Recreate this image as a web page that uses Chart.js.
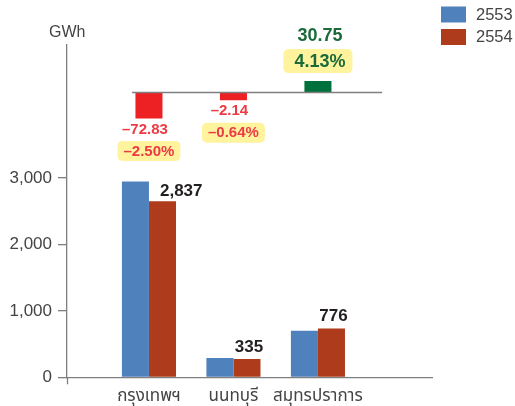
<!DOCTYPE html>
<html><head><meta charset="utf-8">
<script src="https://cdn.jsdelivr.net/npm/chart.js@4"></script>
<style>html,body{margin:0;padding:0;background:#fff;} #wrap{width:515px;height:406px;position:relative;}</style>
</head><body><div id="wrap"><canvas id="c"></canvas></div>
<script>
// ---- data ----
const categories = ['กรุงเทพฯ', 'นนทบุรี', 'สมุทรปราการ'];
const seriesNames = ['2553', '2554'];
const values2553 = [2945, 292, 700];
const values2554 = [2650, 277, 735];
const labels2554 = ['2,837', '335', '776'];
const changeValues = [-72.83, -2.14, 30.75];
const changeLabels = ['–72.83', '–2.14', '30.75'];
const changePercents = ['–2.50%', '–0.64%', '4.13%'];
const yTicks = [0, 1000, 2000, 3000];
const yUnit = 'GWh';

// ---- styles ----
const FONT = '"Liberation Sans", Arial, "Noto Sans Thai", "Noto Sans", sans-serif';
const colors = ['#4F81BD', '#AE3B1B'];
const axisColor = '#7f7f7f';
const textColor = '#444444';
const redBar = '#ED2024', greenBar = '#00703C';
const redText = '#EE3A45', greenText = '#1A6B3A';
const yellow = '#FFF39E';

const positions = categories.map((_, i) => i + 1);

function roundRect(ctx, x, y, w, h, r) {
  ctx.beginPath();
  ctx.moveTo(x + r, y);
  ctx.arcTo(x + w, y, x + w, y + h, r);
  ctx.arcTo(x + w, y + h, x, y + h, r);
  ctx.arcTo(x, y + h, x, y, r);
  ctx.arcTo(x, y, x + w, y, r);
  ctx.closePath();
}

const overlay = {
  id: 'overlay',
  afterDraw(chart) {
    const ctx = chart.ctx;
    const xs = chart.scales.x, y2 = chart.scales.y2;
    const area = chart.chartArea;
    ctx.save();
    // y-axis extension below the x axis
    ctx.strokeStyle = axisColor; ctx.lineWidth = 1.3;
    ctx.beginPath(); ctx.moveTo(area.left + 0.5, area.bottom); ctx.lineTo(area.left + 0.5, area.bottom + 7); ctx.stroke();
    // change chart baseline
    const zy = Math.round(y2.getPixelForValue(0)) + 0.5;
    ctx.beginPath(); ctx.moveTo(xs.getPixelForValue(0.8), zy); ctx.lineTo(xs.getPixelForValue(3.76), zy); ctx.stroke();

    // unit label
    ctx.font = '16px ' + FONT; ctx.fillStyle = textColor;
    ctx.textAlign = 'left'; ctx.textBaseline = 'middle';
    ctx.fillText(yUnit, area.left - 18, area.top - 12);

    // legend
    ctx.font = '16.5px ' + FONT;
    seriesNames.forEach((n, i) => {
      const ly = 6.5 + i * 22.5;
      ctx.fillStyle = colors[i];
      ctx.fillRect(chart.width - 74, ly, 25, 16);
      ctx.fillStyle = textColor;
      ctx.fillText(n, chart.width - 39, ly + 8.5);
    });

    // 2554 value labels
    const m0 = chart.getDatasetMeta(0), m1 = chart.getDatasetMeta(1);
    ctx.font = 'bold 17px ' + FONT; ctx.fillStyle = '#231f20';
    ctx.textBaseline = 'alphabetic';
    m1.data.forEach((bar, i) => {
      const blue = m0.data[i];
      if (blue.y < bar.y - 10) {
        ctx.textAlign = 'left';
        ctx.fillText(labels2554[i], bar.x - 2.5, bar.y - 5.5);
      } else {
        ctx.textAlign = 'center';
        ctx.fillText(labels2554[i], bar.x + 2, bar.y - 7);
      }
    });

    // change labels
    const m2 = chart.getDatasetMeta(2);
    ctx.textAlign = 'center'; ctx.textBaseline = 'middle';
    m2.data.forEach((bar, i) => {
      const v = changeValues[i];
      if (v < 0) {
        ctx.font = 'bold 15px ' + FONT;
        ctx.fillStyle = redText;
        ctx.fillText(changeLabels[i], bar.x - 4, bar.y + 11);
        const w = ctx.measureText(changePercents[i]).width + 12, h = 20;
        const top = bar.y + 22.5;
        ctx.fillStyle = yellow; roundRect(ctx, bar.x - w / 2, top, w, h, 5); ctx.fill();
        ctx.fillStyle = redText;
        ctx.fillText(changePercents[i], bar.x, top + h / 2 + 0.5);
      } else {
        ctx.font = 'bold 18px ' + FONT;
        const w = ctx.measureText(changePercents[i]).width + 18, h = 24;
        const top = bar.y - 8 - h;
        ctx.fillStyle = yellow; roundRect(ctx, bar.x - w / 2, top, w, h, 5); ctx.fill();
        ctx.fillStyle = greenText;
        ctx.fillText(changePercents[i], bar.x + 2, top + h / 2 + 0.5);
        ctx.fillText(changeLabels[i], bar.x + 2, top - 13);
      }
    });
    ctx.restore();
  }
};

new Chart(document.getElementById('c'), {
  type: 'bar',
  data: {
    datasets: [
      { label: seriesNames[0], data: values2553.map((v, i) => ({ x: positions[i], y: v })),
        backgroundColor: colors[0], categoryPercentage: 0.64, barPercentage: 1, yAxisID: 'y' },
      { label: seriesNames[1], data: values2554.map((v, i) => ({ x: positions[i], y: v })),
        backgroundColor: colors[1], categoryPercentage: 0.64, barPercentage: 1, yAxisID: 'y' },
      { label: 'change', data: changeValues.map((v, i) => ({ x: positions[i], y: v })),
        backgroundColor: changeValues.map(v => v < 0 ? redBar : greenBar),
        grouped: false, categoryPercentage: 0.64, barPercentage: 0.5, minBarLength: 8, yAxisID: 'y2' }
    ]
  },
  options: {
    responsive: true, maintainAspectRatio: false, animation: false,
    layout: { padding: { top: 45, right: 83, left: 0, bottom: 0 } },
    plugins: { legend: { display: false }, tooltip: { enabled: false } },
    scales: {
      x: {
        type: 'linear', min: 0.03, max: 4.35, offset: false,
        afterBuildTicks: s => { s.ticks = positions.map(p => ({ value: p })); },
        afterFit: s => { s.height = 28.7; },
        grid: { offset: false, drawOnChartArea: false, drawTicks: false },
        border: { display: true, color: axisColor, width: 1.3 },
        ticks: { autoSkip: false, maxRotation: 0, padding: 8.5, color: textColor,
          font: { size: 17, family: FONT },
          callback: v => categories[positions.indexOf(v)] }
      },
      y: {
        type: 'linear', min: 0, max: 5000,
        afterBuildTicks: s => { s.ticks = yTicks.map(v => ({ value: v })); },
        afterFit: s => { s.width = 67; },
        grid: { drawOnChartArea: false, drawTicks: true, tickLength: 9, color: axisColor, lineWidth: 1.3 },
        border: { display: true, color: axisColor, width: 1.3 },
        ticks: { padding: 6, color: textColor, font: { size: 17, family: FONT },
          callback: v => v.toLocaleString('en-US') }
      },
      y2: { type: 'linear', display: false, min: -792, max: 131 }
    }
  },
  plugins: [overlay]
});
</script></body></html>
